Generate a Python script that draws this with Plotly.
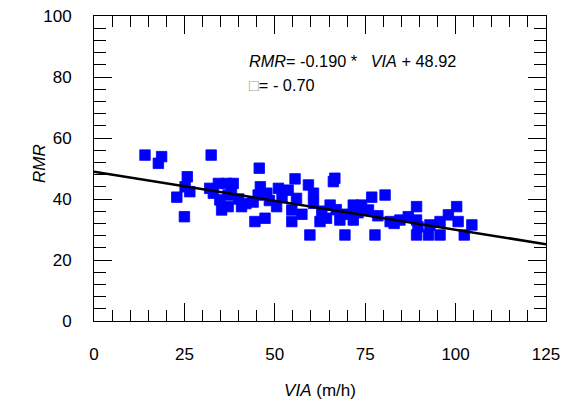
import plotly.graph_objects as go

# Data
via = [14.1, 18.7, 17.8, 32.4, 25.8, 25.2, 26.5, 22.9, 25.0, 34.4,
       36.7, 33.0, 34.8, 35.3, 38.5, 37.1, 40.8, 37.1, 45.7, 55.6,
       59.3, 45.4, 47.8, 51.0, 53.7, 50.5, 47.3, 44.5, 54.7, 54.7,
       56.0, 59.7, 62.5, 60.7, 60.7, 66.6, 66.2, 76.8, 80.5, 65.3,
       64.3, 68.0, 71.7, 74.0, 71.7, 75.9, 69.4, 77.7, 81.9, 84.6,
       86.9, 89.2, 89.2, 89.2, 100.3, 98.0, 95.7, 100.7, 104.5, 92.9,
       92.5, 95.7, 102.4, 89.6, 40.0, 42.0, 44.0, 48.5, 52.0, 57.5,
       63.0, 67.0, 70.0, 73.0, 78.5, 83.0, 38.0, 46.0, 32.0]
rmr = [54.4, 53.9, 51.7, 54.4, 47.3, 44.0, 42.4, 40.6, 34.2, 45.1,
       45.1, 41.9, 39.7, 36.4, 45.1, 41.3, 37.5, 37.5, 50.1, 46.6,
       44.6, 41.3, 41.9, 43.5, 42.9, 37.5, 33.7, 32.6, 32.6, 36.4,
       40.2, 28.2, 32.6, 41.9, 38.6, 46.8, 45.7, 40.6, 41.3, 38.0,
       33.7, 33.1, 38.0, 38.0, 33.1, 36.4, 28.2, 28.2, 32.6, 33.1,
       34.2, 37.5, 33.1, 28.2, 37.5, 34.8, 32.6, 32.6, 31.5, 31.5,
       28.2, 28.2, 28.2, 30.9, 40.0, 38.5, 39.0, 39.5, 40.5, 35.0,
       36.0, 36.5, 35.0, 35.5, 34.5, 32.0, 43.0, 44.0, 43.5]

slope = -0.190
intercept = 48.92
x_fit = [0, 125]
y_fit = [intercept + slope * x for x in x_fit]

x_ticks = [0, 25, 50, 75, 100, 125]
y_ticks = [0, 20, 40, 60, 80, 100]

FONT = "Liberation Sans, Arial, sans-serif"

fig = go.Figure()
fig.add_trace(go.Scatter(
    x=via, y=rmr, mode="markers",
    marker=dict(symbol="square", size=10.5, color="#0000FF",
                line=dict(width=0.8, color="#0000FF")),
    showlegend=False))
fig.add_trace(go.Scatter(
    x=x_fit, y=y_fit, mode="lines",
    line=dict(color="black", width=2.5), showlegend=False))

axis_common = dict(
    showgrid=False, zeroline=False, showline=True, linecolor="black",
    linewidth=1, mirror="allticks", ticks="inside", tickcolor="black",
    tickwidth=1, ticklen=18, automargin=False,
    tickfont=dict(family=FONT, size=17, color="black"),
    ticklabelstandoff=18,
)

fig.update_xaxes(range=[0, 125], tickvals=x_ticks,
                 minor=dict(dtick=5, ticks="inside", ticklen=11,
                            tickcolor="black", tickwidth=1),
                 title=dict(text="<i>VIA</i> (m/h)",
                            font=dict(family=FONT, size=17, color="black"),
                            standoff=20),
                 **axis_common)
fig.update_yaxes(range=[0, 100], tickvals=y_ticks,
                 minor=dict(dtick=4, ticks="inside", ticklen=12,
                            tickcolor="black", tickwidth=1),
                 **axis_common)

W, H = 565, 405
L, R, T, B = 94, 19, 16, 84
pw, ph = W - L - R, H - T - B

def px_to_paper(x, y):
    return (x - L) / pw, 1 - (y - T) / ph

ax, ay = px_to_paper(39, 164)
fig.add_annotation(x=ax, y=ay, xref="paper", yref="paper",
                   text="<i>RMR</i>", textangle=-90,
                   showarrow=False, xanchor="center", yanchor="middle",
                   font=dict(family=FONT, size=17, color="black"))

ax, ay = px_to_paper(247, 61)
fig.add_annotation(x=ax, y=ay, xref="paper", yref="paper",
                   text="<i>RMR</i>= -0.190 *   <i>VIA</i> + 48.92",
                   showarrow=False, xanchor="left", yanchor="middle",
                   font=dict(family=FONT, size=16.3, color="black"))
ax, ay = px_to_paper(247, 85)
fig.add_annotation(x=ax, y=ay, xref="paper", yref="paper",
                   text="<span style='color:#999999'>□</span>= - 0.70",
                   showarrow=False, xanchor="left", yanchor="middle",
                   font=dict(family=FONT, size=16.3, color="black"))

fig.update_layout(
    width=W, height=H,
    margin=dict(l=L, r=R, t=T, b=B, autoexpand=False),
    plot_bgcolor="white", paper_bgcolor="white",
    font=dict(family=FONT, size=17, color="black"),
)

fig.write_html("out.html",
               config={"displayModeBar": False},
               post_script="document.body.style.margin='0px';"
                           "document.body.style.overflow='hidden';")
